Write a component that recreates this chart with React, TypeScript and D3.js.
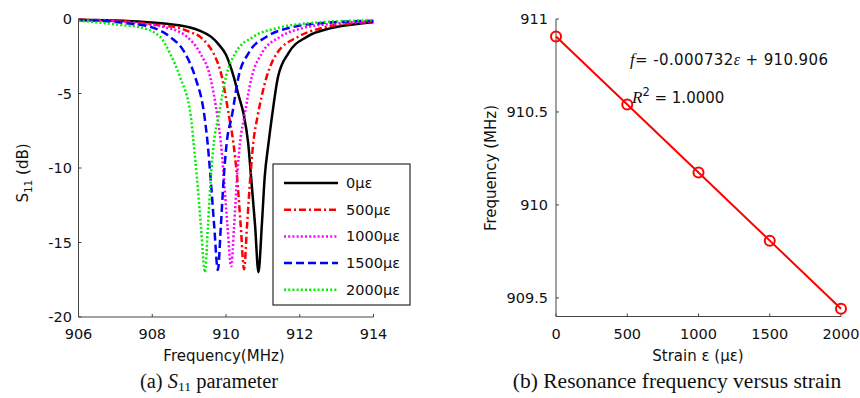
import React from "react";
import * as d3 from "d3";

// ---------- Data ----------
const legendLabels = ["0με", "500με", "1000με", "1500με", "2000με"];
const seriesColors = ["#000000", "#ff0000", "#ff00ff", "#0000ff", "#00ee00"];

const freq0 = [906, 907, 907.8, 908.5, 909.0, 909.3, 909.6, 909.8, 910.0, 910.2, 910.35, 910.47, 910.6, 910.68, 910.79, 910.88, 910.97, 911.05, 911.15, 911.26, 911.41, 911.69, 912.19, 912.82, 913.72, 914];
const s0 = [-0.05, -0.1, -0.2, -0.35, -0.55, -0.8, -1.2, -1.7, -2.4, -3.8, -5.2, -6.3, -8.3, -10.6, -13.9, -17.0, -13.9, -10.6, -8.4, -6.3, -3.9, -2.3, -1.2, -0.63, -0.29, -0.22];

const freq500 = [906, 907, 907.8, 908.3, 908.66, 909.0, 909.3, 909.5, 909.66, 909.89, 910.08, 910.2, 910.3, 910.4, 910.49, 910.57, 910.66, 910.74, 910.86, 911.1, 911.38, 911.96, 912.6, 913.4, 914];
const s500 = [-0.05, -0.12, -0.3, -0.45, -0.55, -0.85, -1.2, -1.7, -2.3, -3.9, -6.5, -8.3, -10.6, -13.9, -16.8, -13.9, -10.6, -8.3, -6.5, -3.9, -2.3, -1.19, -0.6, -0.3, -0.2];

const freq1000 = [906, 907, 907.6, 908.3, 908.94, 909.3, 909.57, 909.77, 909.86, 909.94, 910.04, 910.14, 910.22, 910.3, 910.38, 910.5, 910.7, 910.97, 911.47, 912.1, 913.0, 914];
const s1000 = [-0.07, -0.15, -0.3, -0.52, -1.19, -2.3, -3.87, -6.6, -8.3, -10.6, -13.9, -16.6, -13.9, -10.6, -8.3, -6.5, -3.87, -2.3, -1.19, -0.6, -0.3, -0.15];

const freq1500 = [906, 907, 907.5, 907.94, 908.48, 908.89, 909.16, 909.42, 909.5, 909.58, 909.68, 909.78, 909.86, 909.94, 910.02, 910.16, 910.34, 910.61, 911.1, 911.7, 912.7, 914];
const s1500 = [-0.08, -0.2, -0.35, -0.52, -1.19, -2.3, -3.87, -6.6, -8.3, -10.6, -13.9, -16.85, -13.9, -10.6, -8.3, -6.5, -3.87, -2.3, -1.19, -0.6, -0.25, -0.12];

const freq2000 = [906, 906.6, 907.1, 907.6, 908.21, 908.48, 908.75, 909.05, 909.12, 909.21, 909.32, 909.43, 909.51, 909.59, 909.67, 909.8, 910.0, 910.25, 910.74, 911.4, 912.4, 914];
const s2000 = [-0.12, -0.25, -0.4, -0.52, -1.19, -2.3, -3.87, -6.6, -8.3, -10.6, -13.9, -17.0, -13.9, -10.6, -8.3, -6.5, -3.87, -2.3, -1.19, -0.6, -0.25, -0.08];

const freqSeries = [freq0, freq500, freq1000, freq1500, freq2000];
const s11Series = [s0, s500, s1000, s1500, s2000];

const xTicksA = [906, 908, 910, 912, 914];
const yTicksA = [0, -5, -10, -15, -20];

const strain = [0, 500, 1000, 1500, 2000];
const resFreq = [910.906, 910.54, 910.174, 909.808, 909.442];
const xTicksB = [0, 500, 1000, 1500, 2000];
const yTicksB = [911, 910.5, 910, 909.5];

// ---------- Styles ----------
const dashes = ["none", "7 3 2 3", "2 2.2", "8 4", "2 2.2"];
const sans = "'DejaVu Sans', Verdana, sans-serif";
const serif = "'Liberation Serif', 'Times New Roman', serif";
const axisColor = "#444";
const tickFs = 14.5;
const labFs = 15;

export default function App() {
  const W = 860, H = 398;

  // Panel A scales
  const xA = d3.scaleLinear().domain([906, 914]).range([78.5, 373.5]);
  const yA = d3.scaleLinear().domain([-20, 0]).range([317, 19]);
  // Panel B scales
  const xB = d3.scaleLinear().domain([0, 2000]).range([556, 841]);
  const yB = d3.scaleLinear().domain([909.4, 911]).range([316.5, 19]);

  const lineA = d3
    .line<[number, number]>()
    .x((d) => xA(d[0]))
    .y((d) => yA(d[1]))
    .curve(d3.curveMonotoneX);

  const lineB = d3
    .line<[number, number]>()
    .x((d) => xB(d[0]))
    .y((d) => yB(d[1]));

  const legX = 273, legY = 164, legW = 137, legH = 141;

  return (
    <svg width={W} height={H} style={{ position: "absolute", left: 0, top: 0, background: "#fff" }}>
      <rect width={W} height={H} fill="#fff" />
      {/* ---------- Panel A ---------- */}
      <g>
        {s11Series.map((s, i) => (
          <path
            key={i}
            d={lineA(freqSeries[i].map((f, j) => [f, s[j]] as [number, number])) || ""}
            fill="none"
            stroke={seriesColors[i]}
            strokeWidth={2.5}
            strokeDasharray={dashes[i]}
          />
        ))}
        {/* axes */}
        <line x1={xA(906)} x2={xA(906)} y1={yA(0)} y2={yA(-20)} stroke={axisColor} strokeWidth={1} />
        <line x1={xA(906)} x2={xA(914)} y1={yA(-20)} y2={yA(-20)} stroke={axisColor} strokeWidth={1} />
        {xTicksA.map((t) => (
          <g key={t}>
            <line x1={xA(t)} x2={xA(t)} y1={yA(-20)} y2={yA(-20) - 3} stroke={axisColor} />
            <text x={xA(t)} y={339} textAnchor="middle" fontFamily={sans} fontSize={tickFs} fill="#111">
              {t}
            </text>
          </g>
        ))}
        {yTicksA.map((t) => (
          <g key={t}>
            <line x1={xA(906)} x2={xA(906) + 3} y1={yA(t)} y2={yA(t)} stroke={axisColor} />
            <text x={72} y={yA(t) + 5} textAnchor="end" fontFamily={sans} fontSize={tickFs} fill="#111">
              {t}
            </text>
          </g>
        ))}
        <text x={224} y={361} textAnchor="middle" fontFamily={sans} fontSize={labFs} fill="#111">
          Frequency(MHz)
        </text>
        <text transform="translate(28,173) rotate(-90)" textAnchor="middle" fontFamily={sans} fontSize={labFs} fill="#111">
          S<tspan fontSize={10.5} dy={4}>11</tspan>
          <tspan dy={-4}> (dB)</tspan>
        </text>
        {/* legend */}
        <rect x={legX} y={legY} width={legW} height={legH} fill="#fff" stroke="#000" strokeWidth={1} />
        {legendLabels.map((lab, i) => {
          const yy = 183 + i * 26.7;
          return (
            <g key={lab}>
              <line x1={284} x2={338} y1={yy} y2={yy} stroke={seriesColors[i]} strokeWidth={2.5} strokeDasharray={dashes[i]} />
              <text x={346} y={yy + 5} fontFamily={sans} fontSize={tickFs} fill="#111">
                {lab}
              </text>
            </g>
          );
        })}
        <text x={209} y={388} textAnchor="middle" fontFamily={serif} fontSize={20.5} fill="#111">
          (a) <tspan fontStyle="italic">S</tspan>
          <tspan fontSize={13.5} dy={3}>11</tspan>
          <tspan dy={-3}> parameter</tspan>
        </text>
      </g>

      {/* ---------- Panel B ---------- */}
      <g>
        <line x1={xB(0)} x2={xB(0)} y1={19} y2={yB(909.4)} stroke={axisColor} />
        <line x1={xB(0)} x2={xB(2000)} y1={yB(909.4)} y2={yB(909.4)} stroke={axisColor} />
        {xTicksB.map((t) => (
          <g key={t}>
            <line x1={xB(t)} x2={xB(t)} y1={yB(909.4)} y2={yB(909.4) - 3} stroke={axisColor} />
            <text x={xB(t)} y={339} textAnchor="middle" fontFamily={sans} fontSize={tickFs} fill="#111">
              {t}
            </text>
          </g>
        ))}
        {yTicksB.map((t) => (
          <g key={t}>
            <line x1={xB(0)} x2={xB(0) + 3} y1={yB(t)} y2={yB(t)} stroke={axisColor} />
            <text x={548} y={yB(t) + 5} textAnchor="end" fontFamily={sans} fontSize={tickFs} fill="#111">
              {t}
            </text>
          </g>
        ))}
        <path
          d={lineB(strain.map((s, i) => [s, resFreq[i]] as [number, number])) || ""}
          fill="none"
          stroke="#ff0000"
          strokeWidth={2}
        />
        {strain.map((s, i) => (
          <circle key={s} cx={xB(s)} cy={yB(resFreq[i])} r={5} fill="none" stroke="#ff0000" strokeWidth={2} />
        ))}
        <text x={630} y={65} fontFamily={sans} fontSize={labFs} fill="#111" textLength={198} lengthAdjust="spacing">
          <tspan fontFamily={serif} fontStyle="italic" fontSize={17}>f</tspan>
          <tspan>= -0.000732</tspan>
          <tspan fontFamily={serif} fontStyle="italic" fontSize={16}>ε</tspan>
          <tspan> + 910.906</tspan>
        </text>
        <text x={632} y={103} fontFamily={sans} fontSize={labFs} fill="#111">
          <tspan fontFamily={serif} fontStyle="italic" fontSize={17}>R</tspan>
          <tspan fontSize={11.5} dy={-7}>2</tspan>
          <tspan dy={7}> = 1.0000</tspan>
        </text>
        <text x={698} y={361} textAnchor="middle" fontFamily={sans} fontSize={labFs} fill="#111">
          Strain  ε (με)
        </text>
        <text transform="translate(496,168) rotate(-90)" textAnchor="middle" fontFamily={sans} fontSize={labFs} fill="#111">
          Frequency (MHz)
        </text>
        <text x={677} y={388} textAnchor="middle" fontFamily={serif} fontSize={21.5} fill="#111">
          (b) Resonance frequency versus strain
        </text>
      </g>
    </svg>
  );
}
